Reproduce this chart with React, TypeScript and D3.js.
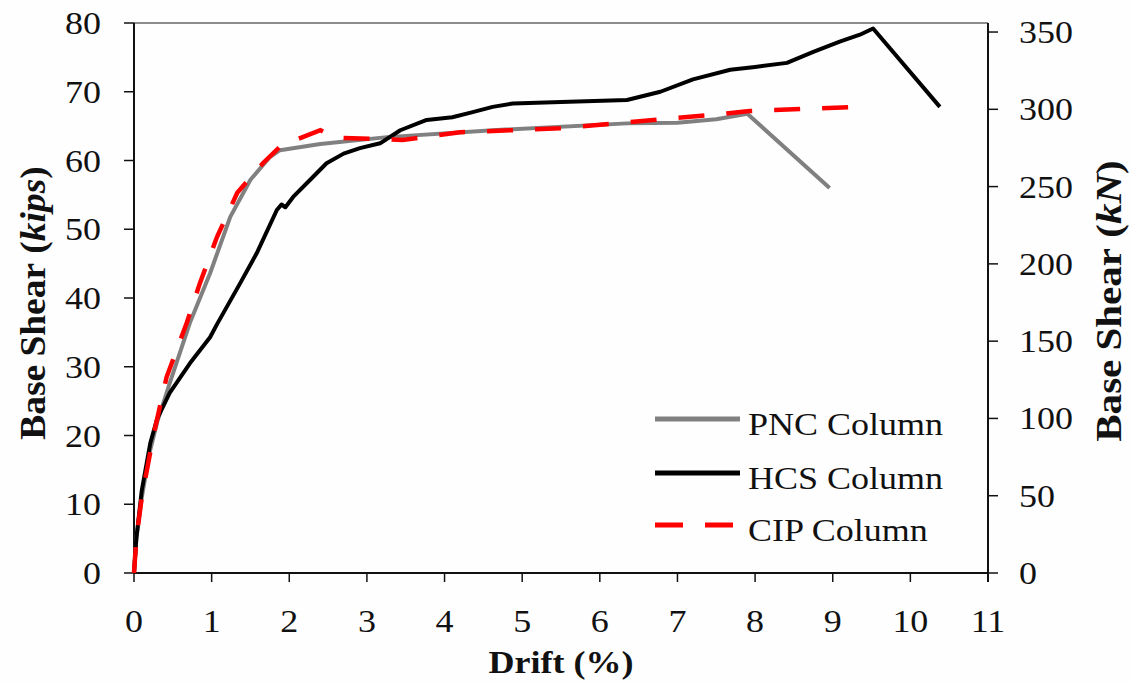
import React from "react";
import * as d3 from "d3";

const xTicks = [0, 1, 2, 3, 4, 5, 6, 7, 8, 9, 10, 11];
const yTicksKips = [0, 10, 20, 30, 40, 50, 60, 70, 80];
const yTicksKN = [0, 50, 100, 150, 200, 250, 300, 350];

// [drift %, base shear kips]
const pncData: [number, number][] = [
  [0, 0], [0.03, 5], [0.1, 11], [0.2, 17.5], [0.3, 22], [0.46, 27.6], [0.72, 36.4],
  [0.98, 43.6], [1.24, 51.8], [1.5, 57.2], [1.75, 60.5], [1.88, 61.5], [2.4, 62.4],
  [3.26, 63.4], [4.62, 64.4], [6.35, 65.4], [7.0, 65.5], [7.5, 66.0], [7.9, 66.8],
  [8.96, 56.0],
];

const hcsData: [number, number][] = [
  [0, 0], [0.03, 5], [0.1, 12], [0.21, 18.9], [0.3, 22.5], [0.46, 26.2], [0.72, 30.5],
  [0.98, 34.3], [1.07, 36.2], [1.37, 42.2], [1.58, 46.5], [1.84, 52.8], [1.9, 53.6],
  [1.95, 53.2], [2.05, 54.7], [2.27, 57.2], [2.48, 59.6], [2.7, 61.0], [2.91, 61.8],
  [3.17, 62.5], [3.43, 64.4], [3.77, 65.9], [4.1, 66.3], [4.35, 67.0], [4.62, 67.8],
  [4.88, 68.3], [5.5, 68.5], [6.35, 68.8], [6.78, 70.0], [7.2, 71.8], [7.68, 73.2],
  [8.0, 73.6], [8.41, 74.2], [8.75, 75.8], [9.09, 77.3], [9.35, 78.3], [9.52, 79.2],
  [10.38, 67.8],
];

const cipData: [number, number][] = [
  [0, 0], [0.03, 5], [0.1, 11], [0.25, 20], [0.42, 28.5], [0.68, 36.4], [0.85, 42.2],
  [1.07, 48.9], [1.33, 55.3], [1.66, 59.6], [1.9, 62.2], [2.4, 64.4], [2.6, 63.3],
  [3.46, 63.0], [4.2, 64.1], [5.49, 64.7], [6.69, 65.9], [7.42, 66.6], [7.93, 67.2],
  [9.31, 67.8],
];

const legendItems = [
  { label: "PNC Column", color: "#808080", dash: "none" },
  { label: "HCS Column", color: "#000000", dash: "none" },
  { label: "CIP Column", color: "#ff0000", dash: "28 22" },
];

const KN_PER_KIP = 4.448;
const FONT = "'Liberation Serif', 'Times New Roman', serif";

export default function App() {
  const W = 1130, H = 684;
  const x = d3.scaleLinear().domain([0, 11]).range([134, 988]);
  const y = d3.scaleLinear().domain([0, 80]).range([573, 23]);
  const yKN = d3.scaleLinear().domain([0, 80 * KN_PER_KIP]).range([573, 23]);
  const line = d3.line<[number, number]>().x(d => x(d[0])).y(d => y(d[1])).curve(d3.curveLinear);

  const sy = 0.87;
  const fs = 36;
  const txt = (tx: number, ty: number, s: string, anchor: string) => (
    <text transform={`translate(${tx},${ty}) scale(1,${sy})`} textAnchor={anchor}
      fontFamily={FONT} fontSize={fs} fill="#111">{s}</text>
  );

  return (
    <svg width={W} height={H} style={{ position: "absolute", left: 0, top: 0, background: "#fff" }}>
      <rect x={0} y={0} width={W} height={H} fill="#fefefe" />
      {/* top frame */}
      <line x1={x(0)} x2={x(11)} y1={y(80)} y2={y(80)} stroke="#666" strokeWidth={1.5} />
      {/* left axis */}
      <line x1={x(0)} x2={x(0)} y1={y(80)} y2={y(0)} stroke="#111" strokeWidth={2} />
      {/* right axis */}
      <line x1={x(11)} x2={x(11)} y1={y(80)} y2={y(0) + 9} stroke="#111" strokeWidth={2} />
      {/* bottom axis */}
      <line x1={x(0)} x2={x(11)} y1={y(0)} y2={y(0)} stroke="#111" strokeWidth={2} />

      {yTicksKips.map(t => (
        <g key={"l" + t}>
          <line x1={x(0) - 10} x2={x(0)} y1={y(t)} y2={y(t)} stroke="#111" strokeWidth={1.5} />
          {txt(101, y(t) + 11, String(t), "end")}
        </g>
      ))}
      {yTicksKN.map(t => (
        <g key={"r" + t}>
          <line x1={x(11)} x2={x(11) + 10} y1={yKN(t)} y2={yKN(t)} stroke="#111" strokeWidth={1.5} />
          {txt(1019, yKN(t) + 11, String(t), "start")}
        </g>
      ))}
      {xTicks.map(t => (
        <g key={"x" + t}>
          <line x1={x(t)} x2={x(t)} y1={y(0)} y2={y(0) + 9} stroke="#111" strokeWidth={1.5} />
          {txt(x(t), 632, String(t), "middle")}
        </g>
      ))}

      {/* axis titles */}
      <text transform={`translate(${(x(0) + x(11)) / 2},673) scale(1,${sy})`} textAnchor="middle"
        fontFamily={FONT} fontSize={fs} fontWeight="bold" fill="#111">Drift (%)</text>
      <text transform="translate(45,303) rotate(-90) scale(1.04,1)" textAnchor="middle"
        fontFamily={FONT} fontSize={fs} fontWeight="bold" fill="#111">
        Base<tspan dx={8}>Shear</tspan> (<tspan fontStyle="italic">kips</tspan>)
      </text>
      <text transform="translate(1121,301) rotate(-90) scale(1.14,1)" textAnchor="middle"
        fontFamily={FONT} fontSize={fs} fontWeight="bold" fill="#111">
        Base<tspan dx={8}>Shear</tspan> (<tspan fontStyle="italic">kN</tspan>)
      </text>

      {/* series */}
      <path d={line(pncData) || ""} fill="none" stroke="#808080" strokeWidth={4} strokeLinejoin="round" />
      <path d={line(hcsData) || ""} fill="none" stroke="#000" strokeWidth={4} strokeLinejoin="round" />
      <path d={line(cipData) || ""} fill="none" stroke="#ff0000" strokeWidth={4.5} strokeDasharray="26 22" />

      {/* legend */}
      {legendItems.map((it, i) => {
        const ly = [419, 473, 525][i];
        return (
          <g key={it.label}>
            <line x1={655} x2={740} y1={ly} y2={ly} stroke={it.color} strokeWidth={5}
              strokeDasharray={it.dash === "none" ? undefined : it.dash} />
            {txt(748, ly + 16, it.label, "start")}
          </g>
        );
      })}
    </svg>
  );
}
